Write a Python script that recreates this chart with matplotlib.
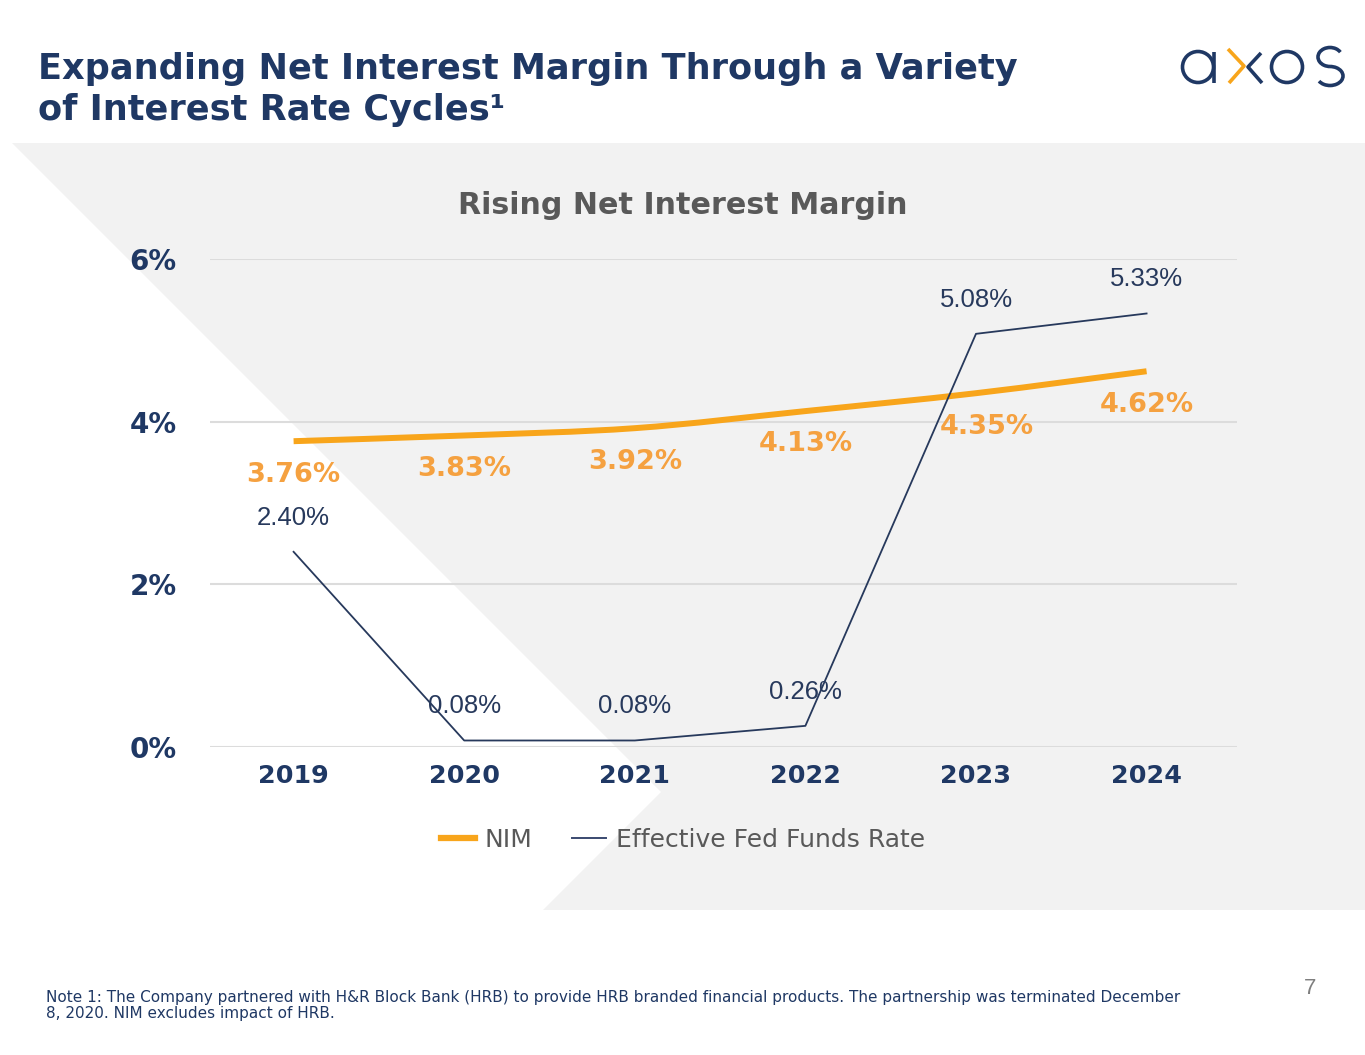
import numpy as np
import matplotlib
matplotlib.use('Agg')
import matplotlib.pyplot as plt
from matplotlib.path import Path
from matplotlib.patches import PathPatch, Polygon, Circle, Arc
from matplotlib.lines import Line2D

# data
years = ['2019', '2020', '2021', '2022', '2023', '2024']
nim = [3.76, 3.83, 3.92, 4.13, 4.35, 4.62]
fed_funds = [2.40, 0.08, 0.08, 0.26, 5.08, 5.33]
y_ticks = [0, 2, 4, 6]
y_tick_labels = ['0%', '2%', '4%', '6%']

NAVY = '#1F3864'
FED = '#27395C'
ORANGE = '#F8A51B'
ORANGE_TXT = '#F5A140'
GRAY_TXT = '#595959'
BG = '#F2F2F2'

W, H = 1365, 1055
fig = plt.figure(figsize=(W / 100, H / 100), dpi=100)


def fx(px):
    return px / W


def fy(py):
    return 1 - py / H


# gray chevron background
bg = Polygon([(fx(12), fy(143)), (fx(1365), fy(143)), (fx(1365), fy(910)),
              (fx(543), fy(910)), (fx(661), fy(792))],
             closed=True, transform=fig.transFigure, facecolor=BG,
             edgecolor='none', zorder=-5)
fig.patches.append(bg)

# slide title
fig.text(fx(38), fy(79), 'Expanding Net Interest Margin Through a Variety',
         fontsize=25.3, fontweight='bold', color=NAVY, va='baseline', ha='left')
fig.text(fx(38), fy(120), 'of Interest Rate Cycles¹',
         fontsize=25.3, fontweight='bold', color=NAVY, va='baseline', ha='left')

# chart title
fig.text(fx(683), fy(206), 'Rising Net Interest Margin', fontsize=21.7,
         fontweight='bold', color=GRAY_TXT, ha='center', va='center')

ax = fig.add_axes([fx(210), fy(747), fx(1237 - 210), (747 - 259) / H])
ax.set_facecolor('none')
x = np.arange(len(years))
ax.set_xlim(-0.49, 5.53)
ax.set_ylim(0, 6)

for yv in y_ticks:
    ax.axhline(yv, color='#DCDCDC', lw=1.5, zorder=1)

# smoothed NIM line (cardinal spline through the points)
pts = np.column_stack([x, nim])
verts = [tuple(pts[0])]
codes = [Path.MOVETO]
for i in range(len(pts) - 1):
    p0 = pts[i - 1] if i > 0 else pts[i]
    p1 = pts[i]
    p2 = pts[i + 1]
    p3 = pts[i + 2] if i + 2 < len(pts) else pts[i + 1]
    c1 = p1 + (p2 - p0) / 6
    c2 = p2 - (p3 - p1) / 6
    verts += [tuple(c1), tuple(c2), tuple(p2)]
    codes += [Path.CURVE4] * 3
ax.add_patch(PathPatch(Path(verts, codes), facecolor='none', edgecolor=ORANGE,
                       lw=4.3, capstyle='butt', zorder=3))

ax.plot(x, fed_funds, color=FED, lw=1.3, zorder=4)

for i, v in enumerate(nim):
    dx = 8 if years[i] == '2023' else 0
    ax.annotate(f'{v:.2f}%', (x[i], v), xytext=(dx, -24), textcoords='offset points',
                ha='center', va='center', fontsize=19.5, fontweight='bold',
                color=ORANGE_TXT, zorder=5)
for i, v in enumerate(fed_funds):
    ax.annotate(f'{v:.2f}%', (x[i], v), xytext=(0, 24.5), textcoords='offset points',
                ha='center', va='center', fontsize=18.5, family='Liberation Sans',
                color=FED, zorder=5)

ax.set_xticks(x)
ax.set_xticklabels(years, fontsize=18.3, fontweight='bold', color=NAVY)
ax.set_yticks(y_ticks)
ax.set_yticklabels(y_tick_labels, fontsize=20, fontweight='bold', color=NAVY)
ax.tick_params(length=0)
ax.tick_params(axis='x', pad=12)
ax.tick_params(axis='y', pad=24)
for s in ax.spines.values():
    s.set_visible(False)

handles = [Line2D([], [], color=ORANGE, lw=4.5),
           Line2D([], [], color='#3A4A70', lw=1.4)]
fig.legend(handles, ['NIM', 'Effective Fed Funds Rate'], loc='center',
           bbox_to_anchor=(fx(683), fy(840)), ncol=2, frameon=False,
           prop={'size': 18}, labelcolor=GRAY_TXT, handlelength=1.35,
           handletextpad=0.4, columnspacing=1.6)

# footnote and page number
fig.text(fx(46), fy(1002), 'Note 1: The Company partnered with H&R Block Bank (HRB) to provide '
         'HRB branded financial products. The partnership was terminated December',
         fontsize=11, color=NAVY, ha='left', va='baseline')
fig.text(fx(46), fy(1018), '8, 2020. NIM excludes impact of HRB.',
         fontsize=11, color=NAVY, ha='left', va='baseline')
fig.text(fx(1310), fy(988), '7', fontsize=16, color='#7F7F7F',
         family='Liberation Sans', ha='center', va='center')

# axos logo
lg = fig.add_axes([fx(1170), fy(92), fx(180), 52 / H])
lg.set_xlim(1170, 1350)
lg.set_ylim(92, 40)
lg.axis('off')
lw_logo = 2.6
lg.add_patch(Circle((1198, 67), 15.5, fill=False, ec=NAVY, lw=lw_logo))
lg.plot([1213.5, 1213.5], [51.5, 83], color=NAVY, lw=lw_logo, solid_capstyle='butt')
lg.plot([1228, 1244, 1229], [49, 66, 83], color=ORANGE, lw=lw_logo, solid_capstyle='butt')
lg.plot([1261, 1248, 1262], [53, 67, 83], color=NAVY, lw=lw_logo, solid_capstyle='butt')
lg.add_patch(Circle((1287, 67), 15.5, fill=False, ec=NAVY, lw=lw_logo))
lg.add_patch(Arc((1330, 57), 24, 19, theta1=90, theta2=335, ec=NAVY, lw=lw_logo))
lg.add_patch(Arc((1330, 76), 26, 19, theta1=270, theta2=155, ec=NAVY, lw=lw_logo))

fig.savefig('out.png', dpi=100)
